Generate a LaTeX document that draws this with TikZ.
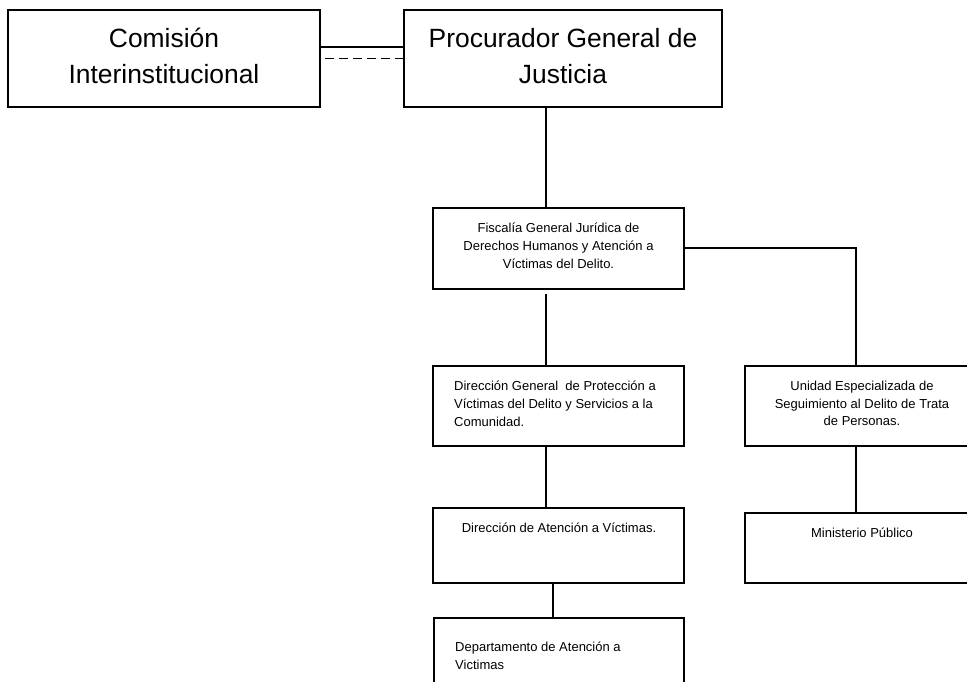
\documentclass[tikz,border=0pt]{standalone}
\usepackage{fontspec}
\setmainfont{Liberation Sans}
\usetikzlibrary{calc}
\begin{document}
\begin{tikzpicture}[x=1pt,y=-1pt,
  box/.style={draw=black, line width=1.8pt, rectangle, inner sep=0pt, outer sep=0pt, anchor=north west},
  big/.style={font=\fontsize{26.4}{36}\selectfont, align=center, inner sep=0pt},
  small/.style={font=\fontsize{13}{17.8}\selectfont, inner sep=0pt},
  conn/.style={draw=black, line width=1.6pt}]
\useasboundingbox (0,0) rectangle (967,681);
\clip (0,0) rectangle (967,681);
\fill[white] (0,0) rectangle (967,681);
% boxes
\node[box, minimum width=312pt, minimum height=97pt] (com) at (8,10) {};
\node[box, minimum width=318pt, minimum height=97pt] (pro) at (404,10) {};
\node[box, minimum width=251pt, minimum height=81pt] (fis) at (433,208) {};
\node[box, minimum width=251pt, minimum height=80pt] (dg) at (433,366) {};
\node[box, minimum width=235pt, minimum height=80pt] (una) at (745,366) {};
\node[box, minimum width=251pt, minimum height=75pt] (da) at (433,508) {};
\node[box, minimum width=250pt, minimum height=90pt] (dep) at (434,618) {};
\node[box, minimum width=235pt, minimum height=70pt] (min) at (745,513) {};
% texts
\node[big] (comt) at (164,56) {Comisión\\Interinstitucional};
\node[big] (prot) at (563,56) {Procurador General de\\Justicia};
\node[small, align=center] (fist) at (558.5,246) {Fiscalía General Jurídica de\\Derechos Humanos y Atención a\\Víctimas del Delito.};
\node[small, align=left, anchor=west] (dgt) at (454,403.5) {Dirección General \ de Protección a\\Víctimas del Delito y Servicios a la\\Comunidad.};
\node[small, align=center] (unat) at (862,403.5) {Unidad Especializada de\\Seguimiento al Delito de Trata\\de Personas.};
\node[small, align=center] (dat) at (559,528) {Dirección de Atención a Víctimas.};
\node[small, align=center] (mint) at (862,533) {Ministerio Público};
\node[small, align=left, anchor=west] (dept) at (455,655.5) {Departamento de Atención a\\Victimas};
% connectors
\draw[conn] ([yshift=11.5pt]com.east) -- ([yshift=11.5pt]pro.west);
\draw[conn, dash pattern=on 8.5pt off 5.4pt, dash phase=8.5pt] (com.east) -- (pro.west);
\draw[conn] ([xshift=-17pt]pro.south) -- ([xshift=-12.5pt]fis.north);
\draw[conn] ([yshift=0.5pt]fis.east) -| ([xshift=-6.5pt]una.north);
\draw[conn] ([xshift=-12.5pt,yshift=-5pt]fis.south) -- ([xshift=-12.5pt]dg.north);
\draw[conn] ([xshift=-12.5pt]dg.south) -- ([xshift=-12.5pt]da.north);
\draw[conn] ([xshift=-5.5pt]da.south) -- ([xshift=-6pt]dep.north);
\draw[conn] ([xshift=-6.5pt]una.south) -- ([xshift=-6.5pt]min.north);
\end{tikzpicture}
\end{document}
